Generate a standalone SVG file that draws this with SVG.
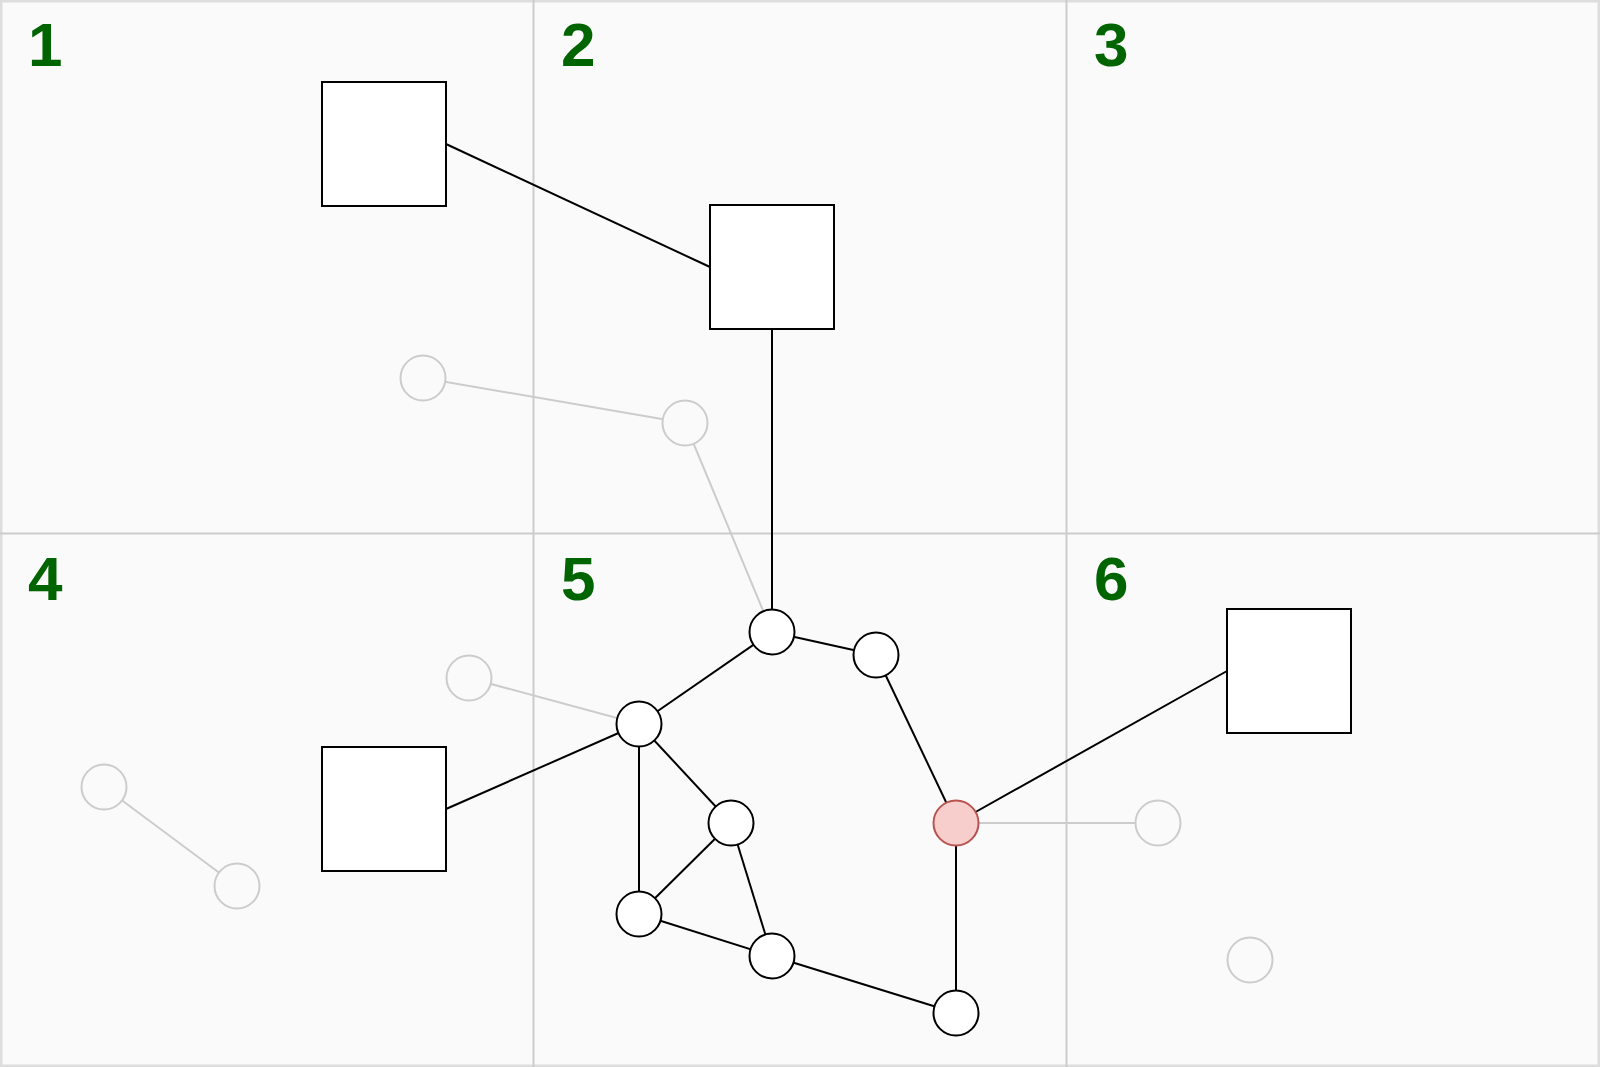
<svg xmlns="http://www.w3.org/2000/svg" width="1600" height="1067" viewBox="0 0 1600 1067">
<style>
.lbl{font-family:"Liberation Sans",Arial,sans-serif;font-weight:bold;font-size:62px;fill:#006400}
.grid{stroke:#cccccc;stroke-width:2;fill:none}
.e{stroke:#000;stroke-width:2;fill:none}
.ge{stroke:#cccccc;stroke-width:2;fill:none}
.sq{fill:#fff;stroke:#000;stroke-width:2}
.c{fill:#fff;stroke:#000;stroke-width:2}
.gc{fill:#fafafa;stroke:#cccccc;stroke-width:2}
.rc{fill:#f8cecc;stroke:#b85450;stroke-width:2}
</style>
<rect x="0" y="0" width="1600" height="1067" fill="#fafafa" stroke="#dddddd" stroke-width="5"/>
<g id="grid">
<line class="grid" x1="533.5" y1="0" x2="533.5" y2="1067"/>
<line class="grid" x1="1066.5" y1="0" x2="1066.5" y2="1067"/>
<line class="grid" x1="0" y1="533.5" x2="1600" y2="533.5"/>
</g>
<g id="labels">
<text class="lbl" x="28" y="66">1</text>
<text class="lbl" x="561" y="66">2</text>
<text class="lbl" x="1094" y="66">3</text>
<text class="lbl" x="28" y="600">4</text>
<text class="lbl" x="561" y="600">5</text>
<text class="lbl" x="1094" y="600">6</text>
</g>
<g id="connectors">
<line class="ge" x1="423" y1="378" x2="685" y2="423"/>
<line class="ge" x1="685" y1="423" x2="772" y2="632"/>
<line class="ge" x1="469" y1="678" x2="639" y2="724"/>
<line class="ge" x1="104" y1="787" x2="237" y2="886"/>
<line class="ge" x1="956" y1="823" x2="1158" y2="823"/>
<line class="e" x1="446" y1="144" x2="710" y2="267"/>
<line class="e" x1="772" y1="329" x2="772" y2="632"/>
<line class="e" x1="772" y1="632" x2="639" y2="724"/>
<line class="e" x1="772" y1="632" x2="876" y2="655"/>
<line class="e" x1="876" y1="655" x2="956" y2="823"/>
<line class="e" x1="639" y1="724" x2="446" y2="809"/>
<line class="e" x1="639" y1="724" x2="731" y2="823"/>
<line class="e" x1="639" y1="724" x2="639" y2="914"/>
<line class="e" x1="731" y1="823" x2="639" y2="914"/>
<line class="e" x1="731" y1="823" x2="772" y2="956"/>
<line class="e" x1="639" y1="914" x2="772" y2="956"/>
<line class="e" x1="772" y1="956" x2="956" y2="1013"/>
<line class="e" x1="956" y1="823" x2="956" y2="1013"/>
<line class="e" x1="956" y1="823" x2="1227" y2="671"/>
</g>
<g id="sq1"><rect class="sq" x="322" y="82" width="124" height="124"/></g>
<g id="sq2"><rect class="sq" x="710" y="205" width="124" height="124"/></g>
<g id="sq3"><rect class="sq" x="1227" y="609" width="124" height="124"/></g>
<g id="sq4"><rect class="sq" x="322" y="747" width="124" height="124"/></g>
<g id="g1"><circle class="gc" cx="423" cy="378" r="22.5"/></g>
<g id="g2"><circle class="gc" cx="685" cy="423" r="22.5"/></g>
<g id="g3"><circle class="gc" cx="469" cy="678" r="22.5"/></g>
<g id="g4"><circle class="gc" cx="104" cy="787" r="22.5"/></g>
<g id="g5"><circle class="gc" cx="237" cy="886" r="22.5"/></g>
<g id="g6"><circle class="gc" cx="1158" cy="823" r="22.5"/></g>
<g id="g7"><circle class="gc" cx="1250" cy="960" r="22.5"/></g>
<g id="nA"><circle class="c" cx="772" cy="632" r="22.5"/></g>
<g id="nB"><circle class="c" cx="876" cy="655" r="22.5"/></g>
<g id="nC"><circle class="c" cx="639" cy="724" r="22.5"/></g>
<g id="nD"><circle class="c" cx="731" cy="823" r="22.5"/></g>
<g id="nE"><circle class="c" cx="639" cy="914" r="22.5"/></g>
<g id="nF"><circle class="c" cx="772" cy="956" r="22.5"/></g>
<g id="nG"><circle class="c" cx="956" cy="1013" r="22.5"/></g>
<g id="nH"><circle class="rc" cx="956" cy="823" r="22.5"/></g>
</svg>
